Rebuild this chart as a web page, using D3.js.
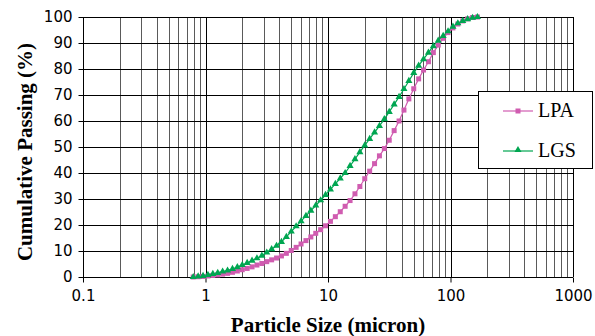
<!DOCTYPE html>
<html>
<head>
<meta charset="utf-8">
<script src="https://cdn.jsdelivr.net/npm/d3@7"></script>
<style>
  body { margin: 0; background: #fff; }
  svg { display: block; }
</style>
</head>
<body>
<script>
// particle sizes (micron) and cumulative passing (%)
var sizes = [0.794, 0.871, 0.955, 1.047, 1.148, 1.259, 1.380, 1.514, 1.660, 1.820,
             1.995, 2.188, 2.399, 2.630, 2.884, 3.162, 3.467, 3.802, 4.169, 4.571,
             5.012, 5.495, 6.026, 6.607, 7.244, 7.943, 8.710, 9.550, 10.47, 11.48,
             12.59, 13.80, 15.14, 16.60, 18.20, 19.95, 21.88, 23.99, 26.30, 28.84,
             31.62, 34.67, 38.02, 41.69, 45.71, 50.12, 54.95, 60.26, 66.07, 72.44,
             79.43, 87.10, 95.50, 104.7, 114.8, 125.9, 138.0, 151.4, 166.0];
var lpa = [0, 0.1, 0.2, 0.4, 0.6, 0.8, 1.1, 1.4, 1.8, 2.3,
           2.8, 3.3, 3.9, 4.6, 5.2, 5.9, 6.6, 7.3, 8.1, 9.1,
           10.2, 11.4, 12.7, 14.0, 15.4, 16.8, 18.2, 19.7, 21.4, 23.2,
           25.1, 27.2, 29.4, 32.0, 34.8, 37.8, 40.7, 43.6, 46.6, 49.4,
           52.6, 56.3, 60.0, 64.2, 68.5, 72.4, 76.2, 79.6, 82.8, 86.3,
           89.2, 91.8, 94.0, 95.8, 97.3, 98.5, 99.3, 99.8, 100];
var lgs = [0, 0.2, 0.4, 0.8, 1.2, 1.6, 2.1, 2.5, 3.1, 3.8,
           4.6, 5.4, 6.3, 7.2, 8.2, 9.4, 10.7, 12.0, 13.5, 15.4,
           17.5, 19.5, 21.5, 23.5, 25.5, 27.5, 29.5, 31.6, 33.7, 35.8,
           37.9, 40.0, 42.7, 45.3, 48.0, 50.6, 53.1, 55.6, 58.1, 60.7,
           63.5, 66.4, 69.3, 72.3, 75.4, 78.5, 81.3, 83.8, 86.3, 88.8,
           90.9, 92.7, 94.5, 96.3, 97.6, 98.5, 99.2, 99.7, 100];
var xTicks = [0.1, 1, 10, 100, 1000];
var yTicks = [0, 10, 20, 30, 40, 50, 60, 70, 80, 90, 100];

var w = 595, h = 336;
var plotL = 83, plotR = 573, plotT = 17, plotB = 277;
var pink = "#d05cb0", green = "#00a651";

var svg = d3.select("body").append("svg")
  .attr("width", w)
  .attr("height", h);

var x = d3.scaleLog().domain([0.1, 1000]).range([plotL, plotR]);
var y = d3.scaleLinear().domain([0, 100]).range([plotB, plotT]);

// vertical grid at every minor position
var minor = [];
for (var e = -1; e < 3; e++) {
  for (var m = 2; m <= 9; m++) minor.push(m * Math.pow(10, e));
}
svg.append("g").selectAll("line")
  .data(minor)
  .enter().append("line")
  .attr("x1", function(d) { return Math.round(x(d)) + 0.5; })
  .attr("x2", function(d) { return Math.round(x(d)) + 0.5; })
  .attr("y1", plotT).attr("y2", plotB)
  .attr("stroke", "#5a5a5a").attr("stroke-width", 1);

svg.append("g").selectAll("line")
  .data(xTicks)
  .enter().append("line")
  .attr("x1", function(d) { return Math.round(x(d)) + 0.5; })
  .attr("x2", function(d) { return Math.round(x(d)) + 0.5; })
  .attr("y1", plotT).attr("y2", plotB)
  .attr("stroke", "#000").attr("stroke-width", 1);

svg.append("g").selectAll("line")
  .data(yTicks)
  .enter().append("line")
  .attr("x1", plotL).attr("x2", plotR)
  .attr("y1", function(d) { return Math.round(y(d)) + 0.5; })
  .attr("y2", function(d) { return Math.round(y(d)) + 0.5; })
  .attr("stroke", "#000").attr("stroke-width", 1);

// axes
var xAxis = d3.axisBottom(x).tickValues(xTicks).tickSize(5).tickPadding(8)
  .tickFormat(function(d) { return String(d); });
var yAxis = d3.axisLeft(y).tickValues(yTicks).tickSize(5).tickPadding(6);

var gx = svg.append("g").attr("transform", "translate(0," + (plotB + 0.5) + ")").call(xAxis);
var gy = svg.append("g").attr("transform", "translate(" + (plotL + 0.5) + ",0)").call(yAxis);
[gx, gy].forEach(function(g) {
  g.select(".domain").remove();
  g.selectAll("line").attr("stroke", "#000");
  g.selectAll("text").attr("font-family", "DejaVu Sans").attr("font-size", 15).attr("fill", "#000");
});

// series lines
var line = d3.line()
  .x(function(d) { return x(d[0]); })
  .y(function(d) { return y(d[1]); });

var lpaData = sizes.map(function(s, i) { return [s, lpa[i]]; });
var lgsData = sizes.map(function(s, i) { return [s, lgs[i]]; });

svg.append("path").datum(lpaData)
  .attr("d", line).attr("fill", "none").attr("stroke", pink).attr("stroke-width", 1.2);
svg.append("path").datum(lgsData)
  .attr("d", line).attr("fill", "none").attr("stroke", green).attr("stroke-width", 1.2);

var tri = d3.symbol().type(d3.symbolTriangle).size(22);

svg.append("g").selectAll("rect")
  .data(lpaData)
  .enter().append("rect")
  .attr("x", function(d) { return x(d[0]) - 2.5; })
  .attr("y", function(d) { return y(d[1]) - 2.5; })
  .attr("width", 5).attr("height", 5)
  .attr("fill", pink);

svg.append("g").selectAll("path")
  .data(lgsData)
  .enter().append("path")
  .attr("d", tri)
  .attr("transform", function(d) { return "translate(" + x(d[0]) + "," + y(d[1]) + ")"; })
  .attr("fill", green);

// legend
var lg = svg.append("g");
lg.append("rect")
  .attr("x", 478.5).attr("y", 91.5).attr("width", 114).attr("height", 77)
  .attr("fill", "#fff").attr("stroke", "#000").attr("stroke-width", 1);
lg.append("line").attr("x1", 503).attr("x2", 533).attr("y1", 111).attr("y2", 111)
  .attr("stroke", pink).attr("stroke-width", 1.2);
lg.append("rect").attr("x", 515.5).attr("y", 108.5).attr("width", 5).attr("height", 5).attr("fill", pink);
lg.append("text").attr("x", 538).attr("y", 117).text("LPA")
  .attr("font-family", "Liberation Serif").attr("font-size", 20);
lg.append("line").attr("x1", 503).attr("x2", 533).attr("y1", 151).attr("y2", 151)
  .attr("stroke", green).attr("stroke-width", 1.2);
lg.append("path").attr("d", tri).attr("transform", "translate(518,150)").attr("fill", green);
lg.append("text").attr("x", 538).attr("y", 157).text("LGS")
  .attr("font-family", "Liberation Serif").attr("font-size", 20);

// axis titles
svg.append("text")
  .attr("x", 328).attr("y", 332)
  .attr("text-anchor", "middle")
  .attr("font-family", "Liberation Serif").attr("font-weight", "bold").attr("font-size", 21)
  .text("Particle Size (micron)");

svg.append("text")
  .attr("transform", "translate(32," + ((plotT + plotB) / 2 + 5) + ") rotate(-90)")
  .attr("text-anchor", "middle")
  .attr("font-family", "Liberation Serif").attr("font-weight", "bold").attr("font-size", 21)
  .text("Cumulative Passing (%)");
</script>
</body>
</html>
